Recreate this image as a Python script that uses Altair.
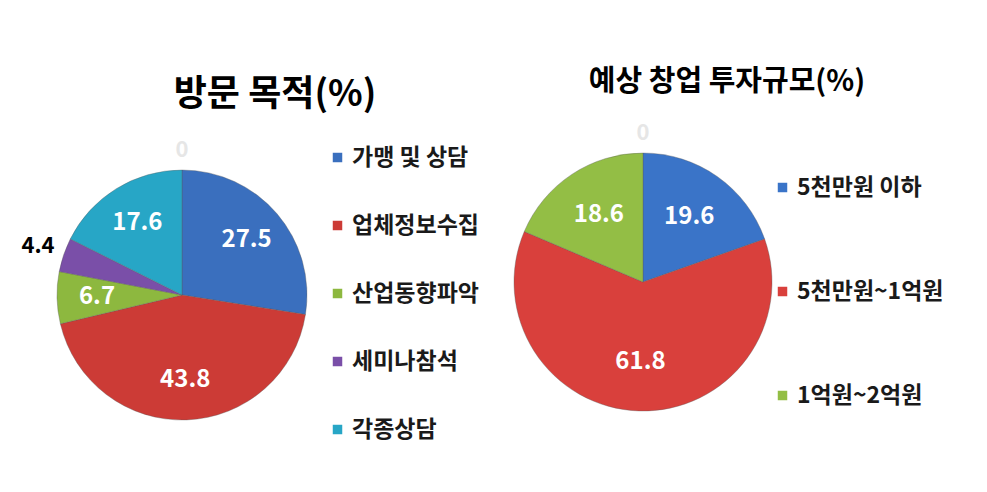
import altair as alt
import pandas as pd

# --- data ---
left_title = "방문 목적(%)"
left_cats = ["가맹 및 상담", "업체정보수집", "산업동향파악", "세미나참석", "각종상담"]
left_vals = [27.5, 43.8, 6.7, 4.4, 17.6]
left_colors = ["#3A6FBE", "#CC3B36", "#8DB83F", "#7A4FA8", "#27A6C6"]

right_title = "예상 창업 투자규모(%)"
right_cats = ["5천만원 이하", "5천만원~1억원", "1억원~2억원"]
right_vals = [19.6, 61.8, 18.6]
right_colors = ["#3A74C8", "#D9403C", "#93BE45"]

zero_label = [0]

FONT = "Noto Sans CJK KR"

left_df = pd.DataFrame({"cat": left_cats, "val": left_vals, "ord": range(len(left_cats))})
left_df["lab"] = left_df["val"].map(lambda v: f"{v:.1f}")
right_df = pd.DataFrame({"cat": right_cats, "val": right_vals, "ord": range(len(right_cats))})
right_df["lab"] = right_df["val"].map(lambda v: f"{v:.1f}")
zero_df = pd.DataFrame({"val": zero_label, "lab": [str(z) for z in zero_label]})

DOM = alt.Scale(domain=[0, 100])


def pie(df, cats, colors, cx, cy, r, lx, ly, row_pad, inner_r, small_cats, outer_r):
    arcs = alt.Chart(df).mark_arc(radius=r, stroke="#5a5a5a", strokeWidth=0.6,
                                  strokeOpacity=0.6).encode(
        theta=alt.Theta("val:Q", stack=True, scale=DOM),
        order=alt.Order("ord:Q", sort="ascending"),
        x=alt.value(cx), y=alt.value(cy),
        color=alt.Color("cat:N",
                        scale=alt.Scale(domain=cats, range=colors),
                        legend=alt.Legend(title=None, orient="none", legendX=lx, legendY=ly,
                                          symbolType="square", symbolSize=90,
                                          symbolStrokeWidth=0,
                                          labelFont=FONT, labelFontSize=23,
                                          labelFontWeight="bold", labelColor="#1a1a1a",
                                          labelOffset=3, rowPadding=row_pad, padding=0,
                                          labelLimit=300)),
    )
    stacked = alt.Chart(df).transform_window(
        cum="sum(val)", sort=[alt.SortField("ord")], frame=[None, 0]
    ).transform_calculate(mid="datum.cum - datum.val / 2")
    enc = dict(theta=alt.Theta("mid:Q", stack=False, scale=DOM),
               x=alt.value(cx), y=alt.value(cy), text="lab:N")
    inner = stacked
    if small_cats:
        inner = stacked.transform_filter(
            ~alt.FieldOneOfPredicate(field="cat", oneOf=small_cats))
    labels = inner.mark_text(radius=inner_r, font=FONT, fontSize=24, fontWeight="bold",
                             color="white").encode(**enc)
    layers = [arcs, labels]
    if small_cats:
        out = stacked.transform_filter(
            alt.FieldOneOfPredicate(field="cat", oneOf=small_cats)
        ).mark_text(radius=outer_r, font=FONT, fontSize=22, fontWeight="bold",
                    color="black").encode(**enc)
        layers.append(out)
    zero = alt.Chart(zero_df).mark_text(radius=r + 20, font=FONT, fontSize=22,
                                        fontWeight="bold", color="#e6e6e6").encode(
        theta=alt.Theta("val:Q", stack=False, scale=DOM),
        text="lab:N", x=alt.value(cx), y=alt.value(cy))
    layers.append(zero)
    return layers


left_layers = pie(left_df, left_cats, left_colors, 174, 287, 125, 318, 138, 44, 85,
                  ["세미나참석"], 152)
right_layers = pie(right_df, right_cats, right_colors, 635, 274, 129, 763, 168, 80, 80,
                   [], 150)

titles_df = pd.DataFrame({"t": [left_title, right_title]})
t1 = alt.Chart(titles_df).transform_filter(alt.datum.t == left_title).mark_text(
    font=FONT, fontSize=36, fontWeight="bold", color="black").encode(
    text="t:N", x=alt.value(267), y=alt.value(87))
t2 = alt.Chart(titles_df).transform_filter(alt.datum.t == right_title).mark_text(
    font=FONT, fontSize=29, fontWeight="bold", color="black").encode(
    text="t:N", x=alt.value(719), y=alt.value(74))

chart = alt.layer(*left_layers, *right_layers, t1, t2).resolve_scale(
    color="independent", theta="independent"
).properties(
    width=971, height=476, padding=0,
    autosize=alt.AutoSizeParams(type="none"),
    background="white",
).configure_view(stroke=None)

chart.save("out.html", embed_options={"renderer": "svg", "actions": False})
